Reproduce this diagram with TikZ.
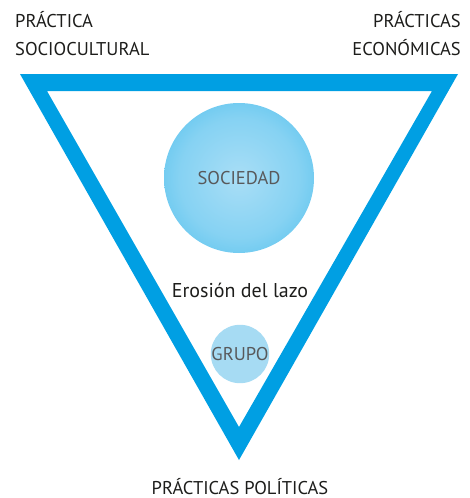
\documentclass[tikz,border=0pt]{standalone}
\usepackage{fontspec}
\setmainfont{PT Sans}
\definecolor{triblue}{HTML}{009FE3}
\definecolor{socin}{HTML}{A9DEF6}
\definecolor{socout}{HTML}{1CAEE8}
\definecolor{grupofill}{HTML}{A6DBF3}
\definecolor{labelgray}{HTML}{58595B}
\definecolor{textblack}{HTML}{1D1D1B}
\pgfdeclareradialshading{socshade}{\pgfpoint{0bp}{0bp}}{color(0bp)=(socin); color(20bp)=(socin!75!socout); color(50bp)=(socout)}
\tikzset{
    corner/.style={text=textblack, font=\fontsize{18.5}{28}\selectfont, inner sep=0pt},
    ball/.style={circle, inner sep=0pt, text=labelgray, font=\fontsize{18.5}{20}\selectfont}
}
\begin{document}
\begin{tikzpicture}[x=1pt, y=-1pt]
    \useasboundingbox (0,0) rectangle (470,498);

    % Triangle frame
    \fill[triblue, even odd rule] (20,74) -- (458,74) -- (239,460) -- cycle
        (47,91) -- (432,91) -- (239,427) -- cycle;

    % Circles
    \node[ball, minimum size=150pt, shading=socshade] (sociedad) at (239,178) {SOCIEDAD};
    \node[ball, minimum size=58pt, fill=grupofill] (grupo) at (240,354) {GRUPO};
    \node[text=textblack, font=\fontsize{20}{22}\selectfont] (erosion) at (240,290) {Erosión del lazo};

    % Corner labels
    \node[corner, anchor=north west, align=left] (socio) at (15,11) {PRÁCTICA\\SOCIOCULTURAL};
    \node[corner, anchor=north east, align=right] (econ) at (461,11) {PRÁCTICAS\\ECONÓMICAS};
    \node[corner, anchor=north] (poli) at (240,478) {PRÁCTICAS POLÍTICAS};
\end{tikzpicture}
\end{document}
